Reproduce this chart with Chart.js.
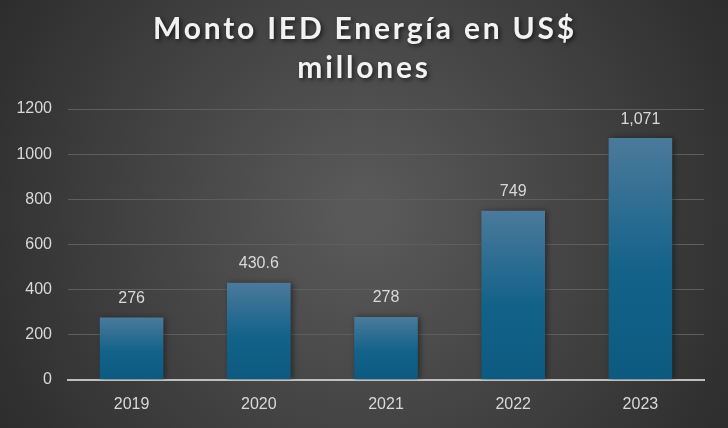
<!DOCTYPE html>
<html>
<head>
<meta charset="utf-8">
<script src="https://cdn.jsdelivr.net/npm/chart.js@4.4.1/dist/chart.umd.min.js"></script>
<style>
  html, body { margin: 0; padding: 0; background: #2e2e2e; }
  #wrap { width: 728px; height: 428px; }
</style>
</head>
<body>
<div id="wrap"><canvas id="myChart" width="728" height="428"></canvas></div>
<script>
const years = ['2019', '2020', '2021', '2022', '2023'];
const montos = [276, 430.6, 278, 749, 1071];
const etiquetas = ['276', '430.6', '278', '749', '1,071'];
const titulo = ['Monto IED Energía en US$', 'millones'];

Chart.defaults.font.family = '"Liberation Sans", Arial, sans-serif';
Chart.defaults.color = '#d9d9d9';

// background + title
const fondo = {
    id: 'fondo',
    beforeDraw(chart) {
        const c = chart.ctx;
        const w = chart.width, h = chart.height;
        c.save();
        const g = c.createRadialGradient(w / 2, h / 2, 20, w / 2, h / 2, w * 0.6);
        g.addColorStop(0, '#595959');
        g.addColorStop(1, '#2b2b2b');
        c.fillStyle = g;
        c.fillRect(0, 0, w, h);
        c.restore();
    },
    afterDraw(chart) {
        const c = chart.ctx;
        c.save();
        c.font = 'bold 30px Lato, sans-serif';
        c.letterSpacing = '2.8px';
        c.fillStyle = '#f2f2f2';
        c.textAlign = 'center';
        c.textBaseline = 'middle';
        c.shadowColor = 'rgba(0,0,0,0.6)';
        c.shadowBlur = 4;
        c.shadowOffsetX = 2;
        c.shadowOffsetY = 2;
        c.fillText(titulo[0], chart.width / 2 + 1, 29);
        c.fillText(titulo[1], chart.width / 2, 68);
        c.restore();
    }
};

// shadow on bars
const sombra = {
    id: 'sombra',
    beforeDatasetsDraw(chart) {
        const c = chart.ctx;
        c.save();
        c.shadowColor = 'rgba(0,0,0,0.45)';
        c.shadowBlur = 6;
        c.shadowOffsetX = 2;
        c.shadowOffsetY = 0;
    },
    afterDatasetsDraw(chart) {
        chart.ctx.restore();
    }
};

// value labels over bars
const valores = {
    id: 'valores',
    afterDatasetsDraw(chart) {
        const c = chart.ctx;
        const meta = chart.getDatasetMeta(0);
        c.save();
        c.font = '16px "Liberation Sans", Arial, sans-serif';
        c.fillStyle = '#d9d9d9';
        c.textAlign = 'center';
        c.textBaseline = 'bottom';
        meta.data.forEach((bar, i) => {
            c.fillText(etiquetas[i], bar.x, bar.y - 11);
        });
        c.restore();
    }
};

var ctx = document.getElementById('myChart').getContext('2d');
new Chart(ctx, {
    type: 'bar',
    data: {
        labels: years,
        datasets: [{
            label: 'Monto IED Energía',
            data: montos,
            backgroundColor: function(context) {
                const chart = context.chart;
                if (!chart.chartArea || context.type !== 'data') return '#12628a';
                const y = chart.scales.y;
                const top = y.getPixelForValue(context.parsed.y);
                const bottom = y.getPixelForValue(0);
                if (!isFinite(top) || !isFinite(bottom) || top === bottom) return '#12628a';
                const g = chart.ctx.createLinearGradient(0, top, 0, bottom);
                g.addColorStop(0, '#4b7a9b');
                g.addColorStop(0.55, '#13628a');
                g.addColorStop(1, '#0c5a80');
                return g;
            },
            borderWidth: 0,
            categoryPercentage: 0.5,
            barPercentage: 1
        }]
    },
    options: {
        responsive: false,
        animation: false,
        layout: { padding: { top: 109, right: 24, bottom: 7, left: 0 } },
        plugins: {
            legend: { display: false },
            tooltip: { enabled: false },
            title: { display: false }
        },
        scales: {
            x: {
                grid: { display: false },
                border: { color: '#bfbfbf', width: 2 },
                ticks: { font: { size: 16 }, color: '#d9d9d9', padding: 7 }
            },
            y: {
                min: 0,
                max: 1200,
                afterFit(scale) { scale.width = 68; },
                border: { display: false },
                grid: {
                    color: (c) => c.tick.value === 0 ? 'rgba(0,0,0,0)' : '#5e5e5e',
                    lineWidth: 1,
                    drawTicks: false
                },
                ticks: {
                    stepSize: 200,
                    font: { size: 16 },
                    color: '#d9d9d9',
                    padding: 16,
                    callback: (v) => String(v)
                }
            }
        }
    },
    plugins: [fondo, sombra, valores]
});
</script>
</body>
</html>
